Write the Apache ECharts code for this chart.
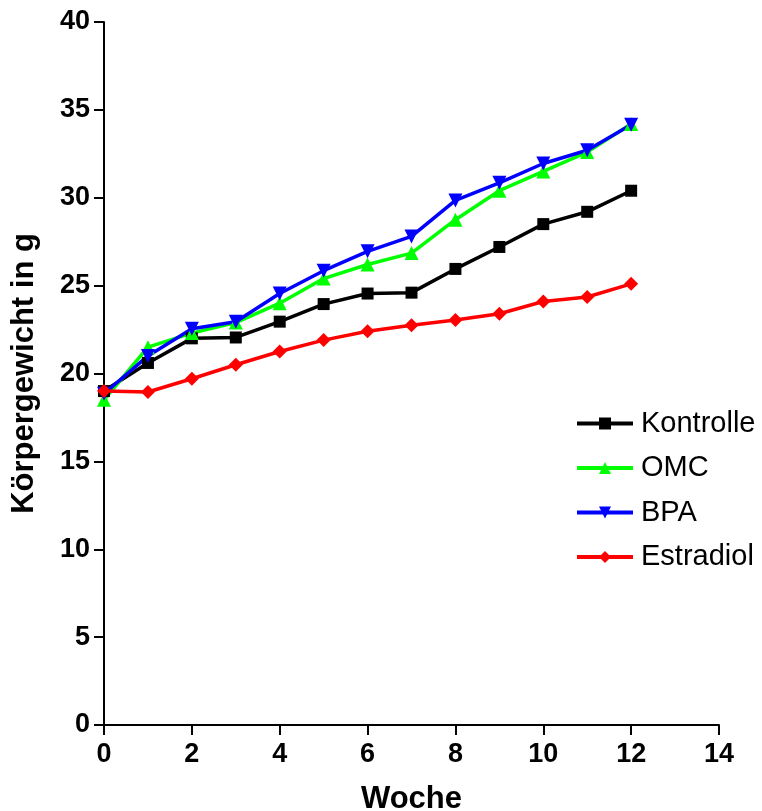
<!DOCTYPE html>
<html><head><meta charset="utf-8">
<script src="https://cdn.jsdelivr.net/npm/echarts@6/dist/echarts.min.js"></script>
<style>html,body{margin:0;padding:0;background:#fff}#c{width:762px;height:811px}</style>
</head><body><div id="c"></div>
<script>
const weeks = [0,1,2,3,4,5,6,7,8,9,10,11,12];
const kontrolle = [19.0,20.6,22.0,22.05,22.95,23.95,24.55,24.6,25.95,27.2,28.5,29.2,30.4];
const omc = [18.5,21.5,22.3,22.9,24.0,25.4,26.2,26.85,28.75,30.4,31.5,32.6,34.2];
const bpa = [18.85,21.0,22.55,22.95,24.55,25.85,26.95,27.8,29.85,30.85,31.95,32.7,34.15];
const estradiol = [19.0,18.95,19.7,20.5,21.25,21.9,22.4,22.75,23.05,23.4,24.1,24.35,25.1];
const xTicks = {min:0,max:14,interval:2};
const yTicks = {min:0,max:40,interval:5};

const font = 'Liberation Sans';
function pairs(arr){ return weeks.map((w,i)=>[w,arr[i]]); }
function mk(name, arr, color, symbol, size, rotate){
  return {name, type:'line', data:pairs(arr), symbol, symbolSize:size, symbolRotate:rotate||0,
    lineStyle:{color, width:3.5}, itemStyle:{color}, showAllSymbol:true, animation:false};
}
const axisLbl = {fontFamily:font, fontSize:27, fontWeight:'bold', color:'#000'};
const chart = echarts.init(document.getElementById('c'));
chart.setOption({
  animation:false,
  grid:{left:104,right:43,top:22,bottom:86,containLabel:false, outerBoundsMode:'none'},
  legend:{orient:'vertical', left:575, top:409, padding:0, itemWidth:56, itemHeight:15, itemGap:15.5,
    lineStyle:{width:4},
    textStyle:{fontFamily:font, fontSize:29, color:'#000', padding:[0,0,0,3]},
    data:['Kontrolle','OMC','BPA','Estradiol']},
  xAxis:{type:'value', min:xTicks.min, max:xTicks.max, interval:xTicks.interval,
    name:'Woche', nameLocation:'middle', nameGap:59,
    nameTextStyle:{fontFamily:font, fontSize:31, fontWeight:'bold', color:'#000'},
    axisLine:{show:true, lineStyle:{color:'#000', width:2}},
    axisTick:{show:true, length:10, lineStyle:{color:'#000', width:2}},
    axisLabel:Object.assign({margin:16}, axisLbl),
    splitLine:{show:false}},
  yAxis:{type:'value', min:yTicks.min, max:yTicks.max, interval:yTicks.interval,
    name:'Körpergewicht in g', nameLocation:'middle', nameGap:64,
    nameTextStyle:{fontFamily:font, fontSize:31, fontWeight:'bold', color:'#000'},
    axisLine:{show:true, lineStyle:{color:'#000', width:2}},
    axisTick:{show:true, length:10, lineStyle:{color:'#000', width:2}},
    axisLabel:Object.assign({margin:14}, axisLbl),
    splitLine:{show:false}},
  series:[
    mk('Kontrolle', kontrolle, '#000000', 'rect', 12),
    mk('OMC', omc, '#00ff00', 'triangle', 14),
    mk('BPA', bpa, '#0000ff', 'triangle', 14, 180),
    mk('Estradiol', estradiol, '#ff0000', 'diamond', 14)
  ]
});
</script></body></html>
